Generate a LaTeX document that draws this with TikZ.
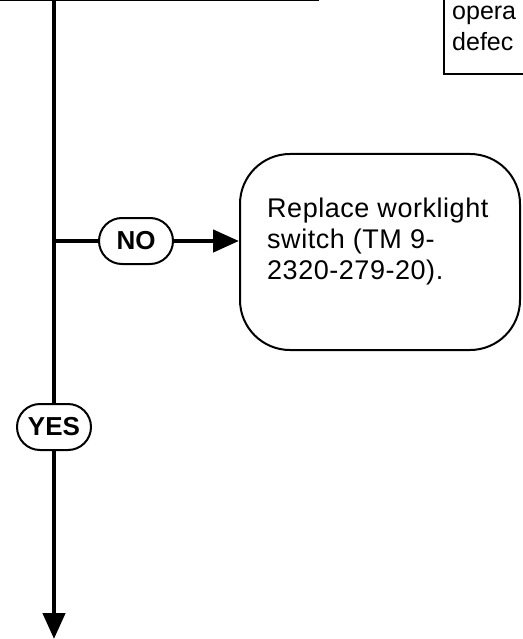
\documentclass[tikz,border=0pt]{standalone}
\usepackage{fontspec}
\setmainfont{Liberation Sans}
\usetikzlibrary{arrows.meta,calc}
\tikzset{
  flow/.style={line width=4.5pt, black},
  flowarrow/.style={flow, -{Triangle[length=26pt,width=22pt]}},
  boxline/.style={draw, line width=2pt},
  pill/.style={draw, line width=2pt, fill=white, rounded corners=23pt,
    minimum width=74pt, minimum height=46pt, inner sep=0pt,
    font=\fontsize{26}{30}\selectfont\bfseries},
  bodytext/.style={inner sep=0pt, align=left, anchor=north west,
    font=\fontsize{27}{31}\selectfont\addfontfeatures{LetterSpace=2}},
  notetext/.style={inner sep=0pt, align=left, anchor=north west,
    font=\fontsize{25}{31}\selectfont},
}
\begin{document}
\begin{tikzpicture}[x=1pt,y=-1pt]
\useasboundingbox (0,0) rectangle (522,639);
% top-left step box (cut off)
\node[boxline, line width=2.5pt, anchor=south east, minimum width=340pt, minimum height=60pt, inner sep=0pt] (prev) at (319,1.5) {};
% top-right note box (cut off)
\node[boxline, anchor=south west, minimum width=200pt, minimum height=120pt, inner sep=0pt] (note) at (443,75) {};
\node[notetext] (notetext) at (452,6) {opera\\defec};
% rounded action box
\node[boxline, rounded corners=50pt, minimum width=280pt, minimum height=196pt, inner sep=0pt] (fix) at (380,252) {};
\node[bodytext] (fixtext) at (267,198) {Replace worklight\\switch (TM 9-\\2320-279-20).};
% pills
\node[pill] (no) at (136,241) {NO};
\node[pill] (yes) at (54,427) {YES};
% connectors
\coordinate (start) at (54,1.5);
\coordinate (branch) at (54,241);
\coordinate (endpt) at (54,639);
\draw[flow] (start) -- (yes.north);
\draw[flowarrow] (yes.south) -- (endpt);
\draw[flow] (branch) -- (no.west);
\draw[flowarrow] (no.east) -- (no.east -| fix.west);
\end{tikzpicture}
\end{document}
